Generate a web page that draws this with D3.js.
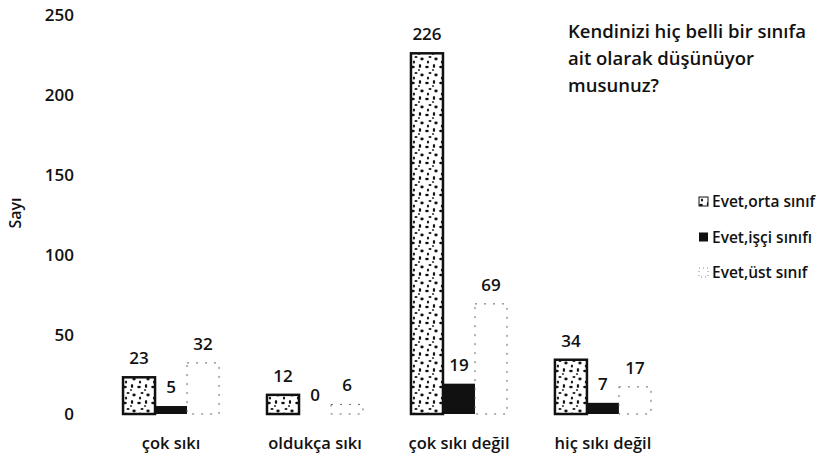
<!DOCTYPE html>
<html>
<head>
<meta charset="utf-8">
<script src="https://cdn.jsdelivr.net/npm/d3@7"></script>
<style>
  body { margin: 0; background: #fff; }
  text { font-family: "Open Sans", "DejaVu Sans", sans-serif; font-weight: 600; fill: #111; }
</style>
</head>
<body>
<div id="chart"></div>
<script>
// Chart data
var categories = ["çok sıkı", "oldukça sıkı", "çok sıkı değil", "hiç sıkı değil"];
var seriesNames = ["Evet,orta sınıf", "Evet,işçi sınıfı", "Evet,üst sınıf"];
var ortaValues = [23, 12, 226, 34];
var isciValues = [5, 0, 19, 7];
var ustValues = [32, 6, 69, 17];
var yTicks = [0, 50, 100, 150, 200, 250];
var titleLines = ["Kendinizi hiç belli bir sınıfa", "ait olarak düşünüyor", "musunuz?"];

var width = 821, height = 461;

var svg = d3.select("#chart").append("svg")
  .attr("width", width)
  .attr("height", height);

/*
Pattern for the speckled "orta sınıf" bars
*/
var defs = svg.append("defs");
var pat = defs.append("pattern")
  .attr("id", "speckle")
  .attr("patternUnits", "userSpaceOnUse")
  .attr("width", 14).attr("height", 16);
pat.append("rect").attr("width", 14).attr("height", 16).attr("fill", "#fff");
[[2, 3, 1.8, 1.2], [9, 2, 1.2, 2], [5, 9, 1.5, 1], [11, 11, 1.7, 1.4], [3, 14, 1.1, 1.6], [8, 6, 0.9, 0.9]]
  .forEach(function(e) {
    pat.append("ellipse")
      .attr("cx", e[0]).attr("cy", e[1]).attr("rx", e[2]).attr("ry", e[3])
      .attr("fill", "#111");
  });

/*
Scales
*/
var x0 = d3.scaleBand()
  .domain(categories)
  .range([99, 675])
  .paddingInner(0.333)
  .paddingOuter(0.167);

var x1 = d3.scaleBand()
  .domain(d3.range(3))
  .range([0, x0.bandwidth()]);

var y = d3.scaleLinear()
  .domain([0, 250])
  .range([414, 15]);

/*
Y axis (labels only)
*/
var yAxis = d3.axisLeft(y).tickValues(yTicks).tickSize(0).tickPadding(0);
var gY = svg.append("g")
  .attr("transform", "translate(74,0)")
  .call(yAxis);
gY.select(".domain").remove();
gY.selectAll("text")
  .style("font-size", "17px")
  .style("font-family", "\"Open Sans\", sans-serif")
  .style("font-weight", "600")
  .attr("fill", "#111")
  .attr("dy", "0.35em");

svg.append("text")
  .attr("transform", "translate(21,213) rotate(-90)")
  .attr("text-anchor", "middle")
  .style("font-size", "16px")
  .text("Sayı");

/*
X axis (labels only)
*/
var xAxis = d3.axisBottom(x0).tickSize(0).tickPadding(0);
var gX = svg.append("g")
  .attr("transform", "translate(0,437)")
  .call(xAxis);
gX.select(".domain").remove();
gX.selectAll("text")
  .style("font-size", "16.5px")
  .style("font-family", "\"Open Sans\", sans-serif")
  .style("font-weight", "600")
  .attr("fill", "#111");

/*
Bars
*/
var rows = categories.map(function(c, i) {
  return { cat: c, vals: [ortaValues[i], isciValues[i], ustValues[i]] };
});

var groups = svg.append("g").selectAll("g")
  .data(rows)
  .enter().append("g")
  .attr("transform", function(d) { return "translate(" + x0(d.cat) + ",0)"; });

groups.selectAll("rect")
  .data(function(d) { return d.vals.map(function(v, k) { return { k: k, v: v }; }); })
  .enter().append("rect")
  .attr("x", function(d) { return x1(d.k); })
  .attr("width", x1.bandwidth())
  .attr("y", function(d) { return y(d.v); })
  .attr("height", function(d) { return y(0) - y(d.v); })
  .attr("fill", function(d) { return d.k === 0 ? "url(#speckle)" : d.k === 1 ? "#111" : "#fff"; })
  .attr("stroke", function(d) { return d.k === 0 ? "#111" : d.k === 2 ? "#666" : "none"; })
  .attr("stroke-width", function(d) { return d.k === 0 ? 2.5 : 1; })
  .attr("stroke-dasharray", function(d) { return d.k === 2 ? "2,7" : null; });

// Value labels
groups.selectAll("text.val")
  .data(function(d) { return d.vals.map(function(v, k) { return { k: k, v: v }; }); })
  .enter().append("text")
  .attr("class", "val")
  .attr("x", function(d) { return x1(d.k) + x1.bandwidth() / 2; })
  .attr("y", function(d) { return y(d.v) - 13; })
  .attr("text-anchor", "middle")
  .style("font-size", "17px")
  .text(function(d) { return d.v; });

/*
Title
*/
svg.append("text")
  .attr("x", 568)
  .attr("y", 38)
  .style("font-size", "18.5px")
  .selectAll("tspan")
  .data(titleLines)
  .enter().append("tspan")
  .attr("x", 568)
  .attr("dy", function(d, i) { return i === 0 ? 0 : 27; })
  .text(function(d) { return d; });

/*
Legend
*/
var legend = svg.append("g").selectAll("g")
  .data(seriesNames)
  .enter().append("g")
  .attr("transform", function(d, i) { return "translate(699," + (202 + i * 35.5) + ")"; });

legend.append("rect")
  .attr("x", 0).attr("y", -5)
  .attr("width", 9).attr("height", 9)
  .attr("fill", function(d, i) { return i === 0 ? "url(#speckle)" : i === 1 ? "#111" : "#fff"; })
  .attr("stroke", function(d, i) { return i === 0 ? "#111" : i === 2 ? "#888" : "none"; })
  .attr("stroke-dasharray", function(d, i) { return i === 2 ? "1,3" : null; });

legend.append("text")
  .attr("x", 13)
  .attr("y", 0)
  .attr("dy", "0.35em")
  .style("font-size", "15.5px")
  .text(function(d) { return d; });
</script>
</body>
</html>
